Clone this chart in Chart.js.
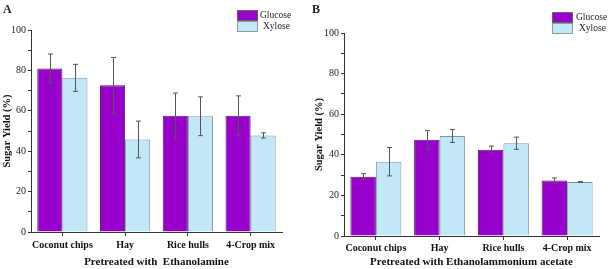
<!DOCTYPE html>
<html>
<head>
<meta charset="utf-8">
<script src="https://cdn.jsdelivr.net/npm/chart.js@4.4.1/dist/chart.umd.min.js"></script>
<style>
  html, body { margin: 0; padding: 0; background: #fff; }
  body { width: 614px; height: 269px; position: relative; overflow: hidden; font-family: "Liberation Serif", "DejaVu Serif", serif; }
  .panel { position: absolute; top: 0; height: 269px; }
  .letter { position: absolute; font-weight: bold; font-size: 12px; color: #222; }
  .legend { position: absolute; font-size: 9.5px; color: #222; line-height: 10px; }
  .legend .row { position: relative; height: 11px; }
  .legend .sw { position: absolute; left: 0; width: 19px; height: 9px; border: 1px solid #666; }
  .legend .tx { position: absolute; top: 0; white-space: nowrap; }
</style>
</head>
<body>
<div class="panel" style="left:0;width:305px;"><canvas id="chartA"></canvas></div>
<div class="panel" style="left:305px;width:309px;"><canvas id="chartB"></canvas></div>

<div class="letter" style="left:3px;top:2px;">A</div>
<div class="letter" style="left:312px;top:2px;">B</div>

<div class="legend" style="left:237px;top:10px;">
  <div class="row"><div class="sw" style="background:#9900CC;"></div><div class="tx" style="left:23px;">Glucose</div></div>
  <div class="row"><div class="sw" style="background:#C2E8F8;border-color:#8899aa;"></div><div class="tx" style="left:26px;">Xylose</div></div>
</div>
<div class="legend" style="left:552px;top:12px;">
  <div class="row"><div class="sw" style="background:#9900CC;"></div><div class="tx" style="left:24px;">Glucose</div></div>
  <div class="row"><div class="sw" style="background:#C2E8F8;border-color:#8899aa;"></div><div class="tx" style="left:27px;">Xylose</div></div>
</div>

<script>
// ---- data ----
const categories = ["Coconut chips", "Hay", "Rice hulls", "4-Crop mix"];
const seriesNames = ["Glucose", "Xylose"];

const glucoseA = [80.9, 72.6, 57.5, 57.6];
const glucoseErrA = [7.2, 13.8, 11.3, 9.8];
const xyloseA = [76.3, 45.8, 57.3, 47.8];
const xyloseErrA = [6.7, 9.1, 9.6, 1.3];

const glucoseB = [29.2, 47.4, 42.5, 27.3];
const glucoseErrB = [1.5, 4.6, 1.8, 1.3];
const xyloseB = [36.6, 49.3, 45.7, 26.6];
const xyloseErrB = [7.0, 3.2, 3.0, 0.2];

const yTicks = [0, 20, 40, 60, 80, 100];
const xTitleA = "Pretreated with  Ethanolamine";
const xTitleB = "Pretreated with Ethanolammonium acetate";
const yTitle = "Sugar Yield (%)";

// ---- styling ----
const GLU = "#9900CC", GLU_BORDER = "#4a2060";
const XYL = "#C2E8F8", XYL_BORDER = "#7f95a8";
const AXIS = "#333333";
const SERIF = "'Liberation Serif', 'DejaVu Serif', serif";

const errorBarPlugin = {
  id: "errorBars",
  afterDatasetsDraw(chart) {
    const ctx = chart.ctx;
    const yScale = chart.scales.y;
    ctx.save();
    chart.data.datasets.forEach((ds, i) => {
      const meta = chart.getDatasetMeta(i);
      if (!ds.errors) return;
      meta.data.forEach((el, j) => {
        const v = ds.data[j], e = ds.errors[j];
        const yT = yScale.getPixelForValue(v + e);
        const yB = yScale.getPixelForValue(v - e);
        const x = Math.round(el.x) + 0.5;
        ctx.strokeStyle = "#555555";
        ctx.lineWidth = 1;
        ctx.beginPath();
        ctx.moveTo(x, yT); ctx.lineTo(x, yB);
        ctx.moveTo(x - 2.5, yT); ctx.lineTo(x + 2.5, yT);
        ctx.moveTo(x - 2.5, yB); ctx.lineTo(x + 2.5, yB);
        ctx.stroke();
      });
    });
    ctx.restore();
  }
};

function makeChart(id, glu, gluErr, xyl, xylErr, xTitle, cfg) {
  return new Chart(document.getElementById(id), {
    type: "bar",
    data: {
      labels: categories,
      datasets: [
        { label: seriesNames[0], data: glu, errors: gluErr, backgroundColor: GLU, borderColor: GLU_BORDER, borderWidth: 1 },
        { label: seriesNames[1], data: xyl, errors: xylErr, backgroundColor: XYL, borderColor: XYL_BORDER, borderWidth: 1 }
      ]
    },
    plugins: [errorBarPlugin],
    options: {
      responsive: true,
      maintainAspectRatio: false,
      animation: false,
      events: [],
      datasets: { bar: { categoryPercentage: 0.8, barPercentage: 1.0 } },
      layout: { padding: cfg.padding },
      plugins: { legend: { display: false }, tooltip: { enabled: false }, title: { display: false } },
      scales: {
        x: {
          grid: { display: true, drawOnChartArea: false, drawTicks: true, tickLength: 4, offset: false, color: AXIS },
          border: { display: true, color: AXIS, width: 1 },
          ticks: { color: "#111", font: { family: SERIF, size: 10, weight: "bold" }, padding: cfg.tickPad, maxRotation: 0, autoSkip: false },
          title: { display: true, text: xTitle, color: "#111", font: { family: SERIF, size: 11, weight: "bold" }, padding: { top: 0, bottom: 0 } },
          afterFit(scale) { scale.height = cfg.xHeight; }
        },
        y: {
          min: 0, max: 100,
          afterBuildTicks(scale) {
            const t = [];
            for (let v = 0; v <= 100; v += 10) t.push({ value: v });
            scale.ticks = t;
          },
          grid: { display: true, drawOnChartArea: false, drawTicks: true, tickLength: 3, color: AXIS },
          border: { display: true, color: AXIS, width: 1 },
          ticks: {
            color: "#222", font: { family: SERIF, size: 10 }, padding: 2,
            callback: (v) => yTicks.includes(v) ? String(v) : ""
          },
          title: { display: true, text: yTitle, color: "#111", font: { family: SERIF, size: 10.5, weight: "bold" }, padding: { top: 0, bottom: 0 } },
          afterFit(scale) { scale.width = cfg.yWidth; }
        }
      }
    }
  });
}

makeChart("chartA", glucoseA, glucoseErrA, xyloseA, xyloseErrA, xTitleA,
  { padding: { top: 30, right: 23, bottom: 0, left: 1 }, xHeight: 37, yWidth: 30, tickPad: 3 });
makeChart("chartB", glucoseB, glucoseErrB, xyloseB, xyloseErrB, xTitleB,
  { padding: { top: 33, right: 15, bottom: 0, left: 8 }, xHeight: 33, yWidth: 31, tickPad: 2 });
</script>
</body>
</html>
